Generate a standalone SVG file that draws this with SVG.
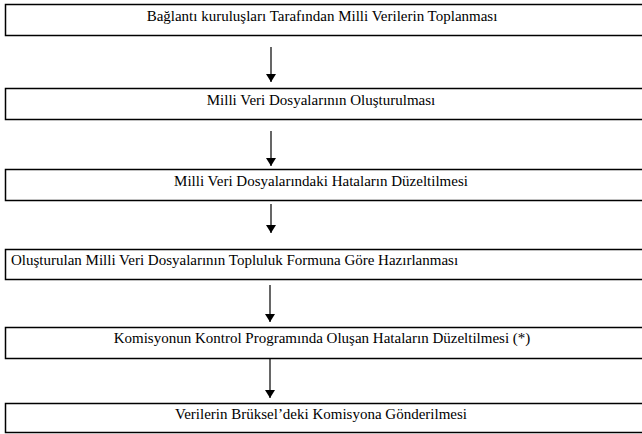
<svg xmlns="http://www.w3.org/2000/svg" width="642" height="434" viewBox="0 0 642 434">
<style>
.box{fill:#fff;stroke:#000;stroke-width:1.5}
.t{font-family:'Liberation Serif','DejaVu Serif',serif;font-size:15px;fill:#000}
.c{text-anchor:middle}
.ln{stroke:#000;stroke-width:1.2;fill:none}
</style>
<defs>
<marker id="ah" viewBox="0 0 8 10" refX="8" refY="5" markerWidth="8" markerHeight="10" markerUnits="userSpaceOnUse" orient="auto"><path d="M0,0 L8,5 L0,10 Z" fill="#000"/></marker>
</defs>
<rect width="642" height="434" fill="#fff"/>
<g id="n1"><rect class="box" x="5.5" y="4.5" width="640" height="31"/><text class="t c" x="322" y="21">Bağlantı kuruluşları Tarafından Milli Verilerin Toplanması</text></g>
<g id="n2"><rect class="box" x="5.5" y="88.5" width="640" height="31"/><text class="t c" x="321" y="105">Milli Veri Dosyalarının Oluşturulması</text></g>
<g id="n3"><rect class="box" x="5.5" y="169.5" width="640" height="31"/><text class="t c" x="321" y="186">Milli Veri Dosyalarındaki Hataların Düzeltilmesi</text></g>
<g id="n4"><rect class="box" x="5.5" y="249.5" width="640" height="30"/><text class="t" x="11" y="265">Oluşturulan Milli Veri Dosyalarının Topluluk Formuna Göre Hazırlanması</text></g>
<g id="n5"><rect class="box" x="5.5" y="327.5" width="640" height="31"/><text class="t c" x="322" y="343">Komisyonun Kontrol Programında Oluşan Hataların Düzeltilmesi (*)</text></g>
<g id="n6"><rect class="box" x="5.5" y="403.5" width="640" height="29"/><text class="t c" x="321" y="419">Verilerin Brüksel’deki Komisyona Gönderilmesi</text></g>
<g id="connectors">
<line class="ln" x1="271" y1="47" x2="271" y2="82" marker-end="url(#ah)"/>
<line class="ln" x1="271" y1="131" x2="271" y2="166" marker-end="url(#ah)"/>
<line class="ln" x1="271" y1="204" x2="271" y2="233" marker-end="url(#ah)"/>
<line class="ln" x1="270" y1="285" x2="270" y2="322" marker-end="url(#ah)"/>
<line class="ln" x1="270" y1="359" x2="270" y2="398" marker-end="url(#ah)"/>
</g>
</svg>
